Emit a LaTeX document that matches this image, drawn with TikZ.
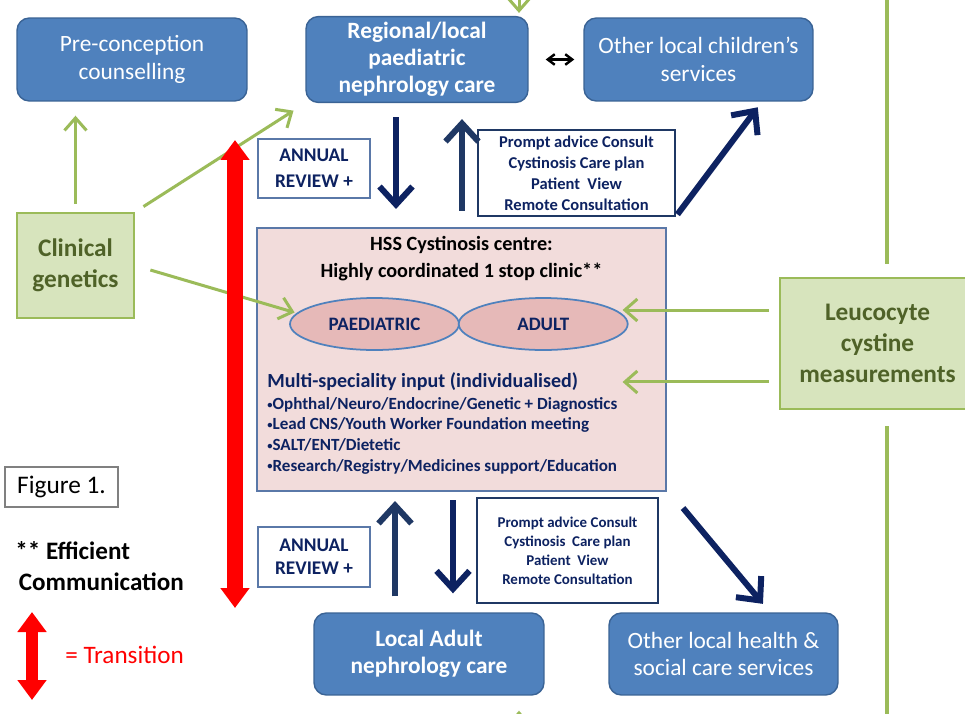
\documentclass[tikz,border=0pt]{standalone}
\usepackage{fontspec}
\setmainfont{Carlito}
\usepackage{tikz}
\usetikzlibrary{
  shapes.geometric,
  arrows.meta,
  positioning,
  calc
}
\definecolor{BoxBlue}{HTML}{4F81BD}
\definecolor{BoxEdge}{HTML}{3A6395}
\definecolor{LeafFill}{HTML}{D7E4BD}
\definecolor{LeafEdge}{HTML}{9BBB59}
\definecolor{LeafText}{HTML}{4F6228}
\definecolor{ClinicPink}{HTML}{F2DCDB}
\definecolor{EllFill}{HTML}{E6B9B8}
\definecolor{EllEdge}{HTML}{4F81BD}
\definecolor{NavyDark}{HTML}{0D2261}
\definecolor{NavyMid}{HTML}{1F3864}
\definecolor{NoteEdge}{HTML}{5A78A8}
\newcommand{\blt}{{\fontsize{6}{6}\selectfont\raisebox{0.25ex}{\textbullet}}}
\tikzset{
  % Blue care box
  svcbox/.style={
    rectangle, rounded corners=7pt,
    draw=BoxEdge, fill=BoxBlue, line width=0.8pt,
    text=white, minimum width=4.6cm, minimum height=1.66cm,
    align=center, font=\fontsize{13.3}{15.6}\selectfont
  },
  % Green input box
  inbox/.style={
    rectangle, draw=LeafEdge, fill=LeafFill, line width=1.2pt,
    text=LeafText, align=center,
    font=\fontsize{14.4}{17.6}\selectfont\bfseries
  },
  % Small outlined note box
  notebox/.style={
    rectangle, draw=#1, fill=white, line width=0.8pt,
    text=NavyDark, align=center
  },
  % Clinic ellipse
  clin/.style={
    ellipse, draw=EllEdge, fill=EllFill, line width=1pt,
    minimum width=3.38cm, minimum height=1.04cm,
    text=NavyDark, font=\fontsize{10.8}{13}\selectfont\bfseries
  },
  % Thick navy arrow
  navarr/.style={
    -{Straight Barb[length=0.36cm,width=0.66cm]},
    line width=0.12cm, color=#1
  },
  % Green arrow
  grnarr/.style={
    -{Straight Barb[length=0.25cm,width=0.44cm]},
    line width=0.06cm, color=LeafEdge
  },
  % Red transition arrow
  redarr/.style={
    {Triangle[length=0.4cm,width=0.56cm]}-{Triangle[length=0.4cm,width=0.56cm]},
    line width=#1, color=red
  }
}
\begin{document}
\begin{tikzpicture}[x=0.02cm, y=-0.02cm]
  \fill[white] (0,0) rectangle (965,714);
  \useasboundingbox (0,0) rectangle (965,714);

  % Top row of care boxes
  \node[svcbox] (pre) at (132,59.5) {Pre-conception\\counselling};
  \node[svcbox, minimum width=4.44cm, font=\fontsize{13.3}{15.3}\selectfont\bfseries]
    (reg) at (417,59.5) {Regional/local\\paediatric\\nephrology care};
  \node[svcbox, minimum width=4.58cm] (oth) at (698.5,59.5) {Other local children’s\\services};

  % Inputs
  \node[inbox, minimum width=2.34cm, minimum height=2.1cm] (cg) at (75.5,265.5) {Clinical\\genetics};
  \node[inbox, minimum width=3.9cm, minimum height=2.62cm] (leu) at (877.5,343.5) {Leucocyte\\cystine\\measurements};

  % Cystinosis centre
  \node[rectangle, draw=NoteEdge, fill=ClinicPink, line width=1.2pt,
        minimum width=8.18cm, minimum height=5.26cm] (hss) at (461.5,359.5) {};
  \node[font=\fontsize{11.5}{15.3}\selectfont\bfseries, align=center] (ttl) at (461.5,258.5)
    {HSS Cystinosis centre:\\Highly coordinated 1 stop clinic**};
  \node[clin] (paed) at (374.5,324) {PAEDIATRIC};
  \node[clin, right=-0.04cm of paed] (adult) {ADULT};
  \node[anchor=west, inner sep=0pt, text=NavyDark, font=\fontsize{11.4}{13}\selectfont\bfseries]
    (msi) at (267,382) {Multi-speciality input (individualised)};
  \node[anchor=north west, inner sep=0pt, text=NavyDark, align=left,
        font=\fontsize{9.7}{11.7}\selectfont\bfseries] (bul) at (267,397)
    {\blt Ophthal/Neuro/Endocrine/Genetic + Diagnostics\\
     \blt Lead CNS/Youth Worker Foundation meeting\\
     \blt SALT/ENT/Dietetic\\
     \blt Research/Registry/Medicines support/Education};

  % Note boxes
  \node[notebox=NoteEdge, minimum width=2.24cm, minimum height=1.18cm,
        font=\fontsize{11}{14.7}\selectfont\bfseries] (ann1) at (314,168.5) {ANNUAL\\REVIEW +};
  \node[notebox=NavyMid, minimum width=3.94cm, minimum height=1.72cm,
        font=\fontsize{9.4}{11.9}\selectfont\bfseries] (pa1) at (576.5,173)
    {Prompt advice Consult\\Cystinosis Care plan\\Patient~~View\\Remote Consultation};
  \node[notebox=NoteEdge, minimum width=2.24cm, minimum height=1.2cm,
        font=\fontsize{11}{13}\selectfont\bfseries] (ann2) at (314,557) {ANNUAL\\REVIEW +};
  \node[notebox=NavyMid, minimum width=3.62cm, minimum height=2.1cm,
        font=\fontsize{8.5}{10.8}\selectfont\bfseries] (pa2) at (567.5,550.5)
    {Prompt advice Consult\\Cystinosis~ Care plan\\Patient~~View\\Remote Consultation};

  % Bottom row of care boxes
  \node[svcbox, minimum height=1.64cm, font=\fontsize{13.3}{15.6}\selectfont\bfseries]
    (lad) at (429,654) {Local Adult\\nephrology care};
  \node[svcbox, minimum width=4.58cm, minimum height=1.64cm] (ohs) at (723.5,654)
    {Other local health \&\\social care services};

  % Legend
  \node[draw=gray, line width=0.8pt, minimum width=2.26cm, minimum height=0.8cm,
        font=\fontsize{14.4}{17}\selectfont] (fig) at (61.5,487) {Figure 1.};
  \node[anchor=north west, inner sep=0pt, align=left,
        font=\fontsize{14.3}{18}\selectfont\bfseries] (eff) at (15,541)
    {** Efficient\\\hspace*{2pt}Communication};
  \node[anchor=west, inner sep=0pt, text=red, font=\fontsize{14.3}{17}\selectfont] (trn) at (65,655) {= Transition};

  % Free ends
  \coordinate (topin) at (519,-5);
  \coordinate (botin) at (519,720);
  \coordinate (gtop) at (887,-5);
  \coordinate (gbot) at (887,720);
  \coordinate (rtop) at (235,140);
  \coordinate (rbot) at (235,608);
  \coordinate (ltop) at (32,612);
  \coordinate (lbot) at (32,700);

  % Navy links, paediatric side
  \draw[navarr=NavyDark, shorten <=0.28cm, shorten >=0.36cm]
    ([xshift=-0.42cm]reg.south) -- ([xshift=-0.42cm]reg.south |- hss.north);
  \draw[navarr=NavyMid, shorten <=0.32cm, shorten >=0.32cm]
    ([xshift=0.9cm]reg.south |- hss.north) -- ([xshift=0.9cm]reg.south);
  \draw[navarr=NavyDark, shorten <=0.06cm, shorten >=0.14cm]
    (pa1.south east) -- ([xshift=1.27cm]oth.south);
  \draw[{Straight Barb[length=4pt,width=6pt]}-{Straight Barb[length=4pt,width=6pt]}, line width=1.4pt,
        shorten <=0.34cm, shorten >=0.18cm] (reg.east) -- (oth.west);

  % Navy links, adult side
  \draw[navarr=NavyMid, shorten <=0.32cm, shorten >=0.18cm]
    ([xshift=-0.68cm]lad.north) -- ([xshift=-0.68cm]lad.north |- hss.south);
  \draw[navarr=NavyDark, shorten <=0.16cm, shorten >=0.38cm]
    ([xshift=0.48cm]lad.north |- hss.south) -- ([xshift=0.48cm]lad.north);
  \draw[navarr=NavyDark, shorten >=0.22cm]
    ([shift={(0.32cm,-0.32cm)}]hss.south east) -- ([xshift=0.93cm]ohs.north);

  % Green inputs
  \draw[grnarr, shorten <=0.16cm, shorten >=0.28cm] (cg.north) -- (cg.north |- pre.south);
  \draw[grnarr, shorten <=0.2cm, shorten >=0.28cm] (cg.north east) -- (reg.south west);
  \draw[grnarr, shorten <=0.32cm, shorten >=0.04cm] (cg.east) -- (paed.172);
  \draw[grnarr, shorten <=0.2cm, shorten >=-0.12cm]
    ([yshift=0.67cm]leu.west) -- ([yshift=0.67cm]leu.west -| adult.east);
  \draw[grnarr, shorten <=0.2cm, shorten >=-0.12cm]
    ([yshift=-0.77cm]leu.west) -- ([yshift=-0.77cm]leu.west -| adult.east);
  \draw[grnarr, shorten >=0.06cm] (topin) -- (topin |- reg.north);
  \draw[grnarr, shorten >=0.3cm] (botin) -- (botin |- lad.south);
  \draw[LeafEdge, line width=0.08cm, shorten >=0.26cm] (gtop) -- (gtop |- leu.north);
  \draw[LeafEdge, line width=0.08cm, shorten >=0.32cm] (gbot) -- (gbot |- leu.south);

  % Transition arrows
  \draw[redarr=0.32cm] (rtop) -- (rbot);
  \draw[redarr=0.24cm] (ltop) -- (lbot);
\end{tikzpicture}
\end{document}
